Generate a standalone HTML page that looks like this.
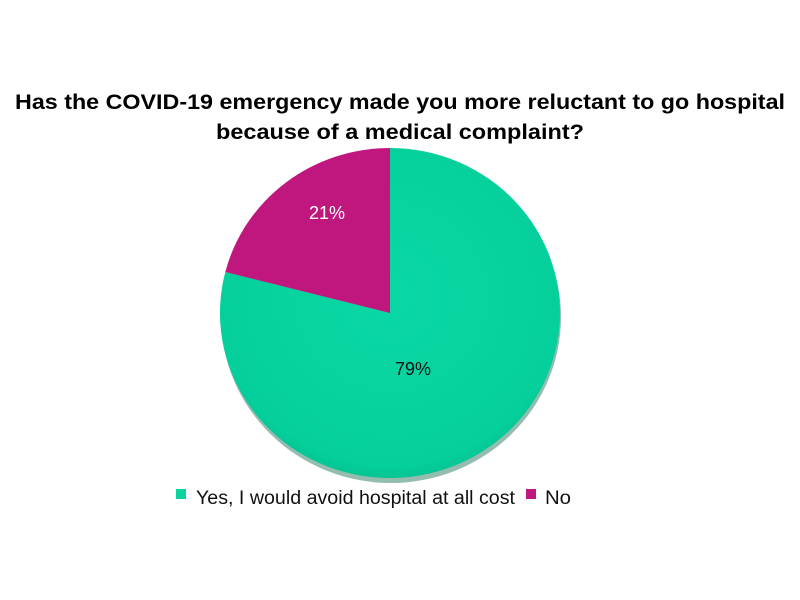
<!DOCTYPE html>
<html><head><style>
html,body{margin:0;padding:0;background:#fff;}
svg{display:block;}
text{font-family:"Liberation Sans",sans-serif;}
</style></head><body>
<svg width="800" height="600" viewBox="0 0 800 600" xmlns="http://www.w3.org/2000/svg">
<defs>
<radialGradient id="g" cx="0.5" cy="0.45" r="0.6">
<stop offset="0" stop-color="#0ad8a4"/><stop offset="0.85" stop-color="#05d09c"/><stop offset="1" stop-color="#03b888"/>
</radialGradient>
</defs>
<text x="15" y="109" font-size="21" font-weight="bold" fill="#000" textLength="770" lengthAdjust="spacingAndGlyphs">Has the COVID-19 emergency made you more reluctant to go hospital</text>
<text x="216" y="139" font-size="21" font-weight="bold" fill="#000" textLength="368" lengthAdjust="spacingAndGlyphs">because of a medical complaint?</text>
<ellipse cx="391" cy="317" rx="170" ry="166" fill="#2a7a60" opacity="0.5"/>
<path d="M390,313 L390,148 A170,165 0 1 1 225.3,272 Z" fill="url(#g)"/>
<path d="M390,313 L225.3,272 A170,165 0 0 1 390,148 Z" fill="#c0177f"/>
<text x="327" y="219" text-anchor="middle" font-size="18" fill="#fff">21%</text>
<text x="413" y="375" text-anchor="middle" font-size="18" fill="#111">79%</text>
<rect x="176" y="489" width="10" height="10" fill="#0bd3a0"/>
<text x="196" y="504" font-size="19" fill="#111" textLength="319" lengthAdjust="spacingAndGlyphs">Yes, I would avoid hospital at all cost</text>
<rect x="526" y="489" width="10" height="10" fill="#c0177f"/>
<text x="545" y="504" font-size="19" fill="#111" textLength="26" lengthAdjust="spacingAndGlyphs">No</text>
</svg>
</body></html>
